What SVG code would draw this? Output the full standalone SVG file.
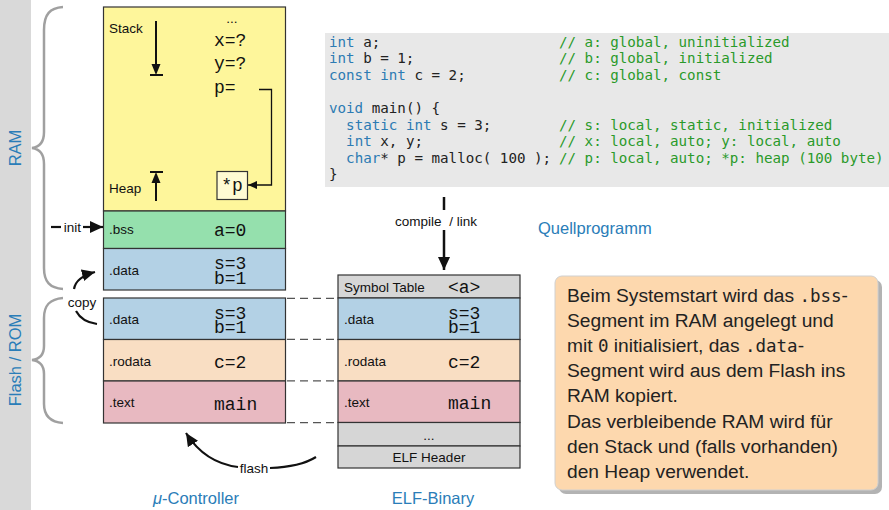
<svg xmlns="http://www.w3.org/2000/svg" width="889" height="510" viewBox="0 0 889 510">
<defs>
<style>
.lbl{font-family:"Liberation Sans",Arial,sans-serif;font-size:13.5px;fill:#111}
.val{font-family:"Liberation Mono","Courier New",monospace;font-size:18px;fill:#111}
.blue{font-family:"Liberation Sans",Arial,sans-serif;font-size:16.5px;fill:#2a7db8}
.seg{stroke:#333;stroke-width:1.2}
.code{font-family:"DejaVu Sans Mono",monospace;font-size:14.2px;fill:#222}
.kw{fill:#2c7bb3}
.cm{fill:#2a9a2a}
.note{font-family:"Liberation Sans",Arial,sans-serif;font-size:19.2px;fill:#222}
.tt{font-family:"DejaVu Sans Mono",monospace;font-size:17.5px}
.brace{fill:none;stroke:#a0a0a0;stroke-width:2.5}
.thick{fill:none;stroke:#111;stroke-width:2.2}
.thin{fill:none;stroke:#111;stroke-width:1.3}
.dash{stroke:#555;stroke-width:1.2;stroke-dasharray:8 5}
</style>
<marker id="ah" markerUnits="userSpaceOnUse" markerWidth="14" markerHeight="12" refX="13" refY="6" orient="auto">
<path d="M0,0 L13,6 L0,12 z" fill="#111"/>
</marker>
<marker id="ahs" markerUnits="userSpaceOnUse" markerWidth="10" markerHeight="8" refX="9" refY="4" orient="auto">
<path d="M0,0 L9,4 L0,8 z" fill="#111"/>
</marker>
</defs>

<rect id="sidebar" x="0" y="0" width="31" height="510" fill="#d9d9d9"/>

<g id="brace-ram">
<path class="brace" d="M63,7 C50,8 44,14 44,30 L44,132 C44,142 40,147 32,148 C40,149 44,154 44,164 L44,268 C44,282 50,288 63,289"/>
<text class="blue" transform="translate(21,148) rotate(-90)" text-anchor="middle">RAM</text>
</g>
<g id="brace-flash">
<path class="brace" d="M63,298 C50,299 44,305 44,318 L44,346 C44,355 40,359 32,360 C40,361 44,365 44,374 L44,404 C44,416 50,422 63,423"/>
<text class="blue" transform="translate(21,360) rotate(-90)" text-anchor="middle">Flash / ROM</text>
</g>

<g id="mc-stack">
<rect class="seg" x="103.5" y="7" width="182" height="204" fill="#fef69b"/>
<text class="lbl" x="109" y="33">Stack</text>
<text class="lbl" x="109" y="193">Heap</text>
<text class="lbl" x="232" y="23" text-anchor="middle">...</text>
<text class="val" x="214" y="46">x=?</text>
<text class="val" x="214" y="69">y=?</text>
<text class="val" x="214" y="93">p=</text>
<line x1="156" y1="21" x2="156" y2="66" stroke="#111" stroke-width="2"/>
<path d="M151.5,64 L160.5,64 L156,75 z" fill="#111"/>
<line x1="150" y1="75" x2="163" y2="75" stroke="#111" stroke-width="2"/>
<line x1="156" y1="181" x2="156" y2="201" stroke="#111" stroke-width="2"/>
<path d="M151.5,183 L160.5,183 L156,172 z" fill="#111"/>
<line x1="150" y1="172" x2="163" y2="172" stroke="#111" stroke-width="2"/>
</g>
<g id="heap-p">
<rect x="217" y="171.5" width="30.5" height="28" fill="#fffbd3" stroke="#333" stroke-width="1.2"/>
<text class="val" x="232" y="191" text-anchor="middle">*p</text>
</g>

<g id="mc-bss">
<rect class="seg" x="103.5" y="211" width="182" height="37.5" fill="#95e0ad"/>
<text class="lbl" x="109" y="234">.bss</text>
<text class="val" x="214" y="235.5">a=0</text>
</g>
<g id="mc-data-ram">
<rect class="seg" x="103.5" y="248.5" width="182" height="41.5" fill="#b3d1e5"/>
<text class="lbl" x="109" y="275">.data</text>
<text class="val"><tspan x="214" y="268.5">s=3</tspan><tspan x="214" y="283.5">b=1</tspan></text>
</g>
<g id="mc-data-flash">
<rect class="seg" x="103.5" y="298" width="182" height="41.5" fill="#b3d1e5"/>
<text class="lbl" x="109" y="324">.data</text>
<text class="val"><tspan x="214" y="318.5">s=3</tspan><tspan x="214" y="333">b=1</tspan></text>
</g>
<g id="mc-rodata">
<rect class="seg" x="103.5" y="339.5" width="182" height="41.5" fill="#f9dec3"/>
<text class="lbl" x="109" y="366">.rodata</text>
<text class="val" x="214" y="367.5">c=2</text>
</g>
<g id="mc-text">
<rect class="seg" x="103.5" y="381" width="182" height="42" fill="#e8b9c1"/>
<text class="lbl" x="109" y="407">.text</text>
<text class="val" x="214" y="409.5">main</text>
</g>
<text id="mc-title" class="blue" x="196" y="504" text-anchor="middle"><tspan font-style="italic">μ</tspan>-Controller</text>

<g id="elf-symtab">
<rect class="seg" x="338" y="275" width="182" height="23" fill="#d6d6d6"/>
<text class="lbl" x="344" y="292">Symbol Table</text>
<text class="val" x="448" y="292.5">&lt;a&gt;</text>
</g>
<g id="elf-data">
<rect class="seg" x="338" y="298" width="182" height="41.5" fill="#b3d1e5"/>
<text class="lbl" x="344" y="324">.data</text>
<text class="val"><tspan x="448" y="318.5">s=3</tspan><tspan x="448" y="333">b=1</tspan></text>
</g>
<g id="elf-rodata">
<rect class="seg" x="338" y="339.5" width="182" height="41.5" fill="#f9dec3"/>
<text class="lbl" x="344" y="366">.rodata</text>
<text class="val" x="448" y="367.5">c=2</text>
</g>
<g id="elf-text">
<rect class="seg" x="338" y="381" width="182" height="41.5" fill="#e8b9c1"/>
<text class="lbl" x="344" y="407">.text</text>
<text class="val" x="448" y="409">main</text>
</g>
<g id="elf-dots">
<rect class="seg" x="338" y="422.5" width="182" height="23.5" fill="#d6d6d6"/>
<text class="lbl" x="429" y="440" text-anchor="middle">...</text>
</g>
<g id="elf-header">
<rect class="seg" x="338" y="446" width="182" height="22" fill="#d6d6d6"/>
<text class="lbl" x="429" y="462" text-anchor="middle">ELF Header</text>
</g>
<text id="elf-title" class="blue" x="433" y="504" text-anchor="middle">ELF-Binary</text>

<g id="code">
<rect x="325" y="33" width="564" height="154" fill="#e8e8e8"/>
<text class="code" xml:space="preserve">
<tspan x="329" y="46.5"><tspan class="kw">int</tspan> a;</tspan>
<tspan x="329" y="63.1"><tspan class="kw">int</tspan> b = 1;</tspan>
<tspan x="329" y="79.7"><tspan class="kw">const</tspan> <tspan class="kw">int</tspan> c = 2;</tspan>
<tspan x="329" y="112.9"><tspan class="kw">void</tspan> main() {</tspan>
<tspan x="329" y="129.5">  <tspan class="kw">static</tspan> <tspan class="kw">int</tspan> s = 3;</tspan>
<tspan x="329" y="146.1">  <tspan class="kw">int</tspan> x, y;</tspan>
<tspan x="329" y="162.7">  <tspan class="kw">char</tspan>* p = malloc( 100 );</tspan>
<tspan x="329" y="179.3">}</tspan>
</text>
<text class="code cm">
<tspan x="559" y="46.5">// a: global, uninitialized</tspan>
<tspan x="559" y="63.1">// b: global, initialized</tspan>
<tspan x="559" y="79.7">// c: global, const</tspan>
<tspan x="559" y="129.5">// s: local, static, initialized</tspan>
<tspan x="559" y="146.1">// x: local, auto; y: local, auto</tspan>
<tspan x="559" y="162.7">// p: local, auto; *p: heap (100 byte)</tspan>
</text>
</g>
<text id="src-title" class="blue" x="538" y="234">Quellprogramm</text>

<g id="note">
<rect x="559" y="280" width="323" height="214" rx="7" fill="#9a9a9a" opacity="0.75"/>
<rect x="555" y="276" width="323" height="214" rx="7" fill="#fdd8ae" stroke="#d0d0d0" stroke-width="1"/>
<text class="note">
<tspan x="567" y="301.5">Beim Systemstart wird das <tspan class="tt">.bss</tspan>-</tspan>
<tspan x="567" y="326.7">Segment im RAM angelegt und</tspan>
<tspan x="567" y="351.9">mit <tspan class="tt">0</tspan> initialisiert, das <tspan class="tt">.data</tspan>-</tspan>
<tspan x="567" y="377.1">Segment wird aus dem Flash ins</tspan>
<tspan x="567" y="402.3">RAM kopiert.</tspan>
<tspan x="567" y="427.5">Das verbleibende RAM wird für</tspan>
<tspan x="567" y="452.7">den Stack und (falls vorhanden)</tspan>
<tspan x="567" y="477.9">den Heap verwendet.</tspan>
</text>
</g>

<g id="connectors">
<path class="thin" d="M259,89.5 H271.5 V185 H248" marker-end="url(#ahs)"/>
<line class="thick" x1="51" y1="227" x2="61" y2="227"/>
<text class="lbl" x="72.5" y="232" text-anchor="middle">init</text>
<line class="thick" x1="83" y1="227" x2="103" y2="227" marker-end="url(#ah)"/>
<path class="thick" d="M74,289 Q76,277 95,272" marker-end="url(#ah)"/>
<text class="lbl" x="82" y="307" text-anchor="middle">copy</text>
<path class="thick" d="M97,324 Q82,322 76,311"/>
<line class="dash" x1="287" y1="298.3" x2="338" y2="298.3"/>
<line class="dash" x1="287" y1="339.3" x2="338" y2="339.3"/>
<line class="dash" x1="287" y1="380.8" x2="338" y2="380.8"/>
<line class="dash" x1="287" y1="422.7" x2="338" y2="422.7"/>
<path class="thick" d="M316,457 Q300,467 270,468"/>
<text class="lbl" x="254" y="473" text-anchor="middle">flash</text>
<path class="thick" d="M238,467 Q205,463 186,433" marker-end="url(#ah)"/>
<line x1="444" y1="197" x2="444" y2="210" stroke="#111" stroke-width="2.5"/>
<text class="lbl" x="436" y="226" text-anchor="middle" xml:space="preserve">compile  / link</text>
<line x1="444" y1="230" x2="444" y2="270" stroke="#111" stroke-width="2.5" marker-end="url(#ah)"/>
</g>
</svg>
